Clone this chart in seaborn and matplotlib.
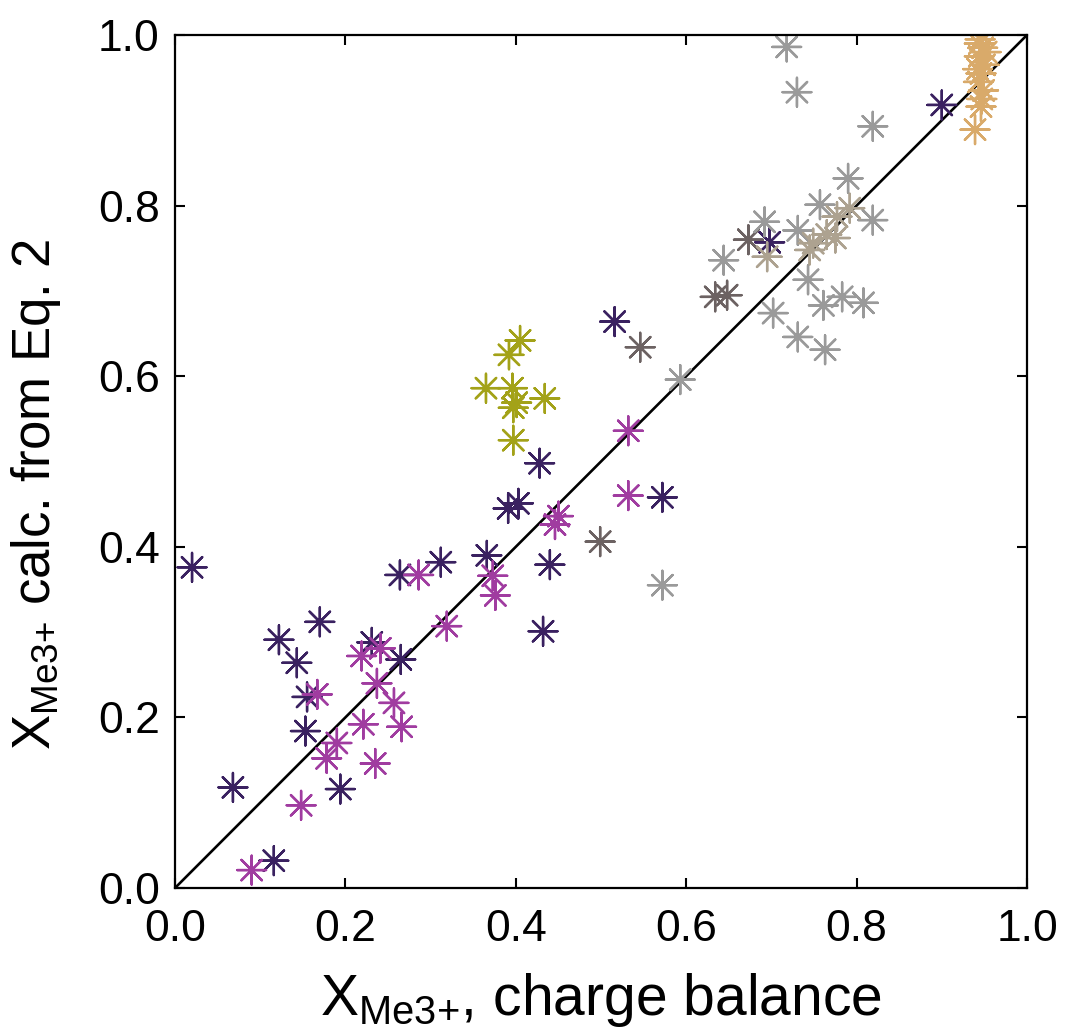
import matplotlib
matplotlib.use("Agg")
import matplotlib.pyplot as plt
import seaborn as sns
import pandas as pd

# ---- data -------------------------------------------------------------
dark_x = [0.020, 0.068, 0.116, 0.122, 0.143, 0.155, 0.153, 0.170, 0.194, 0.231,
          0.265, 0.264, 0.312, 0.366, 0.391, 0.403, 0.428, 0.440, 0.432, 0.516,
          0.572, 0.698, 0.900]
dark_y = [0.376, 0.118, 0.032, 0.291, 0.264, 0.224, 0.184, 0.312, 0.116, 0.288,
          0.268, 0.367, 0.382, 0.390, 0.445, 0.451, 0.498, 0.379, 0.301, 0.664,
          0.458, 0.757, 0.918]

mag_x = [0.090, 0.148, 0.178, 0.190, 0.167, 0.219, 0.241, 0.237, 0.257, 0.266,
         0.221, 0.235, 0.286, 0.319, 0.373, 0.376, 0.450, 0.446, 0.532, 0.532]
mag_y = [0.021, 0.097, 0.152, 0.170, 0.227, 0.272, 0.281, 0.240, 0.217, 0.189,
         0.192, 0.146, 0.367, 0.307, 0.366, 0.343, 0.436, 0.426, 0.536, 0.460]

olive_x = [0.405, 0.392, 0.365, 0.396, 0.401, 0.397, 0.434, 0.397]
olive_y = [0.642, 0.625, 0.586, 0.586, 0.569, 0.563, 0.574, 0.525]

gbrown_x = [0.499, 0.546, 0.634, 0.648, 0.673]
gbrown_y = [0.406, 0.634, 0.693, 0.695, 0.760]

gray_x = [0.572, 0.593, 0.644, 0.702, 0.731, 0.757, 0.790, 0.819, 0.743, 0.761,
          0.783, 0.808, 0.731, 0.763, 0.718, 0.730, 0.819, 0.692]
gray_y = [0.355, 0.596, 0.736, 0.674, 0.771, 0.801, 0.832, 0.783, 0.713, 0.683,
          0.693, 0.686, 0.646, 0.631, 0.986, 0.933, 0.893, 0.781]

beige_x = [0.695, 0.792, 0.777, 0.765, 0.749, 0.775, 0.745]
beige_y = [0.740, 0.797, 0.787, 0.766, 0.756, 0.762, 0.748]

tan_x = [0.945, 0.948, 0.944, 0.950, 0.946, 0.943, 0.949, 0.947, 0.944, 0.952,
         0.942, 0.946, 0.939]
tan_y = [0.995, 0.985, 0.975, 0.965, 0.955, 0.945, 0.935, 0.925, 0.990, 0.980,
         0.960, 0.916, 0.889]

group_names = ["dark", "magenta", "olive", "graybrown", "gray", "beige", "tan"]
group_colors = ["#3a2160", "#a03ca0", "#a3a218", "#6c6262", "#9a9a9a", "#ada290", "#d9aa6a"]

xs = [dark_x, mag_x, olive_x, gbrown_x, gray_x, beige_x, tan_x]
ys = [dark_y, mag_y, olive_y, gbrown_y, gray_y, beige_y, tan_y]

rows = []
for g, xl, yl in zip(group_names, xs, ys):
    for a, b in zip(xl, yl):
        rows.append({"x": a, "y": b, "group": g})
df = pd.DataFrame(rows)

line_x = [0.0, 1.0]
line_y = [0.0, 1.0]

tick_vals = [0.0, 0.2, 0.4, 0.6, 0.8, 1.0]
tick_labels = ["0.0", "0.2", "0.4", "0.6", "0.8", "1.0"]

# ---- plot -------------------------------------------------------------
sns.set_style("ticks")
plt.rcParams["font.family"] = ["Liberation Sans", "DejaVu Sans"]
plt.rcParams["mathtext.fontset"] = "custom"
plt.rcParams["mathtext.rm"] = "Liberation Sans"
plt.rcParams["mathtext.it"] = "Liberation Sans"
for k in ["text.color", "axes.labelcolor", "xtick.color", "ytick.color", "axes.edgecolor"]:
    plt.rcParams[k] = "black"

fig = plt.figure(figsize=(10.65, 10.27), dpi=100)
ax = fig.add_axes([175 / 1065, 1 - 888 / 1027, 852 / 1065, 853 / 1027])

ax.plot(line_x, line_y, color="black", lw=1.9, zorder=1)

sns.scatterplot(data=df, x="x", y="y", hue="group",
                palette=dict(zip(group_names, group_colors)),
                marker=(8, 2, 0), s=430, linewidth=1.7, legend=False,
                ax=ax, zorder=2)
coll = ax.collections[-1]
coll.set_edgecolors(coll.get_facecolors())

ax.set_xlim(0, 1)
ax.set_ylim(0, 1)
ax.set_xticks(tick_vals)
ax.set_yticks(tick_vals)
ax.set_xticklabels(tick_labels)
ax.set_yticklabels(tick_labels)
ax.tick_params(direction="in", length=7.5, width=1.5, labelsize=32,
               top=True, right=True, colors="black")
ax.tick_params(axis="x", pad=15)
ax.tick_params(axis="y", pad=11)
for sp in ax.spines.values():
    sp.set_visible(True)
    sp.set_linewidth(1.6)
    sp.set_color("black")

ax.set_xlabel(r"X$_{\mathregular{Me3{+}}}$, charge balance", fontsize=41)
ax.set_ylabel(r"X$_{\mathregular{Me3{+}}}$ calc. from Eq. 2", fontsize=38)
ax.xaxis.label.set_verticalalignment("baseline")
ax.xaxis.set_label_coords(0.5, -(1015 - 888) / 853)
ax.yaxis.label.set_verticalalignment("baseline")
ax.yaxis.set_label_coords(-(175 - 50) / 852, (888 - 495) / 853)

fig.savefig("out.png", dpi=100)
